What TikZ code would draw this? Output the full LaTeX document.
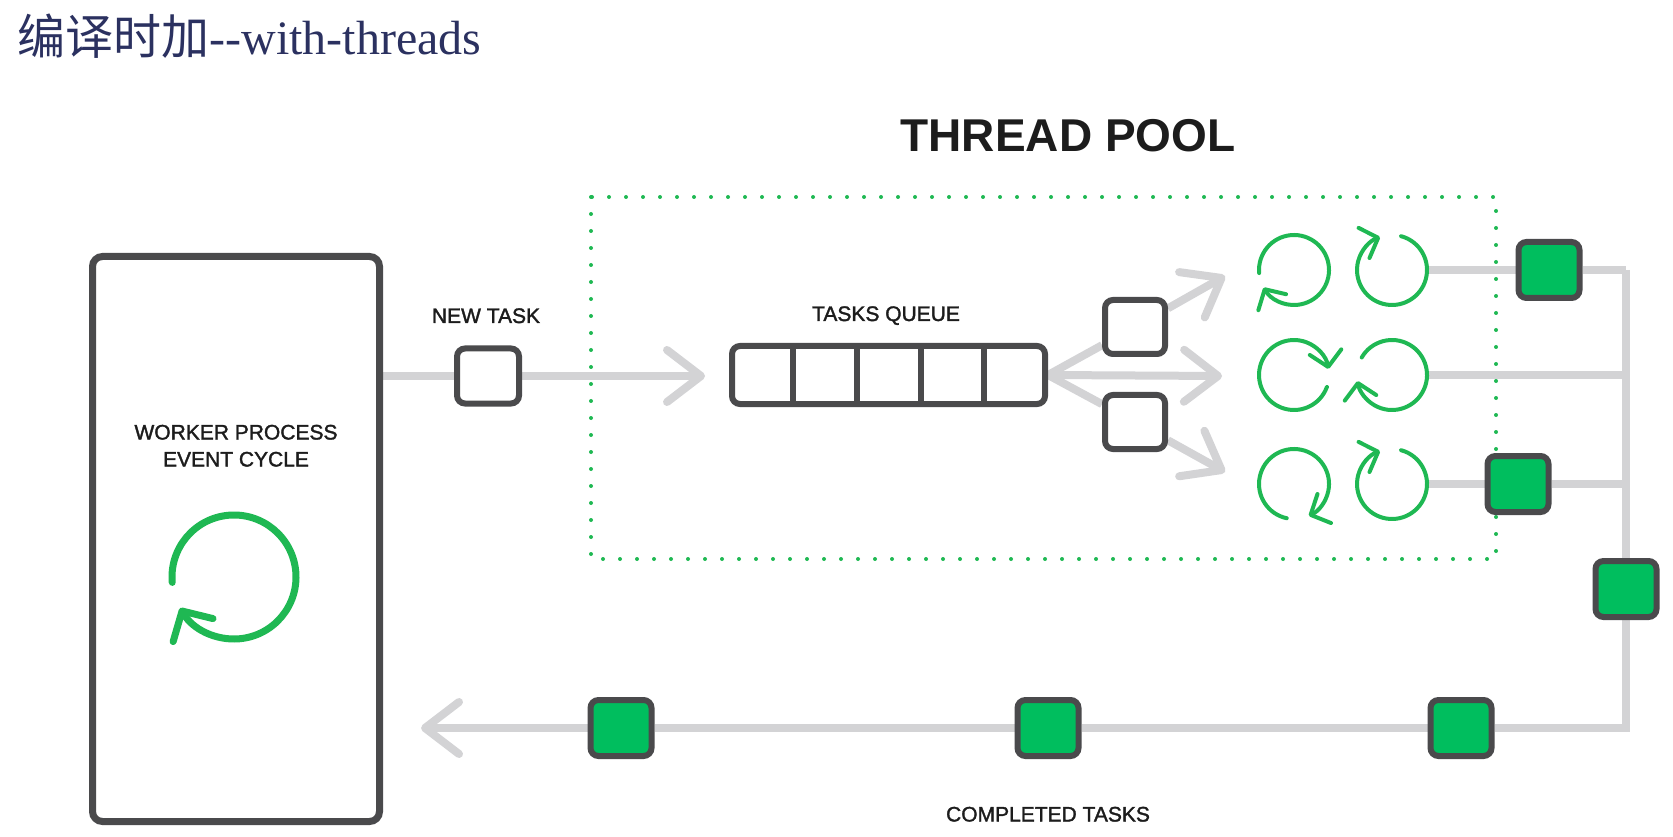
\documentclass[tikz,border=0pt]{standalone}
\usepackage{fontspec}
\usepackage{tikz}
\usetikzlibrary{arrows.meta,backgrounds}
\newfontfamily\cjk{Noto Sans CJK SC}
\newfontfamily\titleserif{Liberation Serif}
\newfontfamily\labelsans[FakeBold=1.6]{Liberation Sans}
\newfontfamily\poolsans{Liberation Sans}
\definecolor{titlenavy}{HTML}{2B3160}
\definecolor{boxgray}{HTML}{4A4A4C}
\definecolor{flowgray}{HTML}{D3D3D5}
\definecolor{taskgreen}{HTML}{00BE5E}
\definecolor{loopgreen}{HTML}{1FB853}
\definecolor{inkblack}{HTML}{1C1C1C}
\newcommand{\loopicon}[5][]{\draw[loopline,#1] (#2) ++(#4:#3) arc[start angle=#4, end angle=#5, radius=#3];}
\tikzset{
	flow/.style={draw=flowgray, line width=4pt},
	flowtip/.style={-{Straight Barb[length=17pt,width=26pt,round]}},
	taskbox/.style={draw=boxgray, line width=3pt, rounded corners=4pt, fill=white,
		minimum width=31pt, minimum height=27.5pt, inner sep=0pt},
	donebox/.style={taskbox, fill=taskgreen, minimum width=30.5pt, minimum height=28pt},
	tasklabel/.style={anchor=base, inner sep=0pt, text=inkblack,
		font=\labelsans\fontsize{10.5}{12}\selectfont},
	loopline/.style={draw=loopgreen, line width=2pt, line cap=round,
		-{Straight Barb[length=7.5pt,width=16pt,round]}},
	threadslot/.style={circle, minimum size=35pt, inner sep=0pt},
	pooldots/.style={draw=loopgreen, line width=2pt, line cap=round, dash pattern=on 0pt off 8.5pt}
}

\begin{document}
\begin{tikzpicture}[x=0.5pt, y=0.5pt]
	\useasboundingbox (0,0) rectangle (1673,836);
	\node[anchor=base west, inner sep=0pt, text=titlenavy, font=\fontsize{24}{28}\selectfont] (title)
		at (17,781) {{\cjk 编译时加}{\titleserif -{}-with-threads}};
	\node[anchor=base, inner sep=0pt, text=inkblack, font=\poolsans\bfseries\fontsize{23}{26}\selectfont] (pooltitle)
		at (1068,684) {THREAD POOL};

	\node[draw=boxgray, line width=3.5pt, rounded corners=5pt, fill=white,
		minimum width=143.5pt, minimum height=282.5pt] (worker) at (236,297) {};
	\node[tasklabel] (workertop) at (236,396.5) {WORKER PROCESS};
	\node[tasklabel] (workerbottom) at (236,369.5) {EVENT CYCLE};
	\coordinate (wloop) at (234,259);
	\loopicon[line width=3.5pt, -{Straight Barb[length=11pt,width=23pt,round]}]{wloop}{62}{185}{-150}

	\node[taskbox] (newtask) at (488,460) {};
	\node[tasklabel] (newtasktext) at (486,513) {NEW TASK};
	\coordinate (qin) at (705,460);
	\node[taskbox, minimum width=156.5pt, minimum height=29pt] (queue) at (888.5,461) {};
	\foreach \x in {793,857,921,984}
		\draw[boxgray, line width=3pt] (\x,432) -- (\x,490);
	\node[tasklabel] (queuetext) at (886,515) {TASKS QUEUE};

	\node[taskbox, minimum width=30pt, minimum height=27pt] (qa) at (1135,509) {};
	\node[taskbox, minimum width=30pt, minimum height=27pt] (qb) at (1135,414) {};
	\coordinate (tipa) at (1225,560);
	\coordinate (tipb) at (1222,460);
	\coordinate (tipc) at (1225,364);

	\foreach \r/\y in {1/566,2/461,3/352} {
		\node[threadslot] (t\r1) at (1294,\y) {};
		\node[threadslot] (t\r2) at (1392,\y) {};
	}
	\loopicon{t11}{35}{185}{-150}
	\loopicon{t12}{35}{75}{-250}
	\loopicon{t21}{35}{340}{10}
	\loopicon{t22}{35}{150}{-170}
	\loopicon{t31}{35}{258}{-65}
	\loopicon{t32}{35}{75}{-250}

	\node[donebox] (d1) at (1549,566) {};
	\node[donebox] (d2) at (1518,352) {};
	\node[donebox] (d3) at (1626,247) {};
	\node[donebox] (d4) at (1461,108) {};
	\node[donebox] (d5) at (1048,108) {};
	\node[donebox] (d6) at (621,108) {};
	\node[tasklabel] (donetext) at (1048,14.5) {COMPLETED TASKS};
	\coordinate (j1) at (1626,566);
	\coordinate (j2) at (1626,461);
	\coordinate (j3) at (1626,352);
	\coordinate (corner) at (1626,108);
	\coordinate (backtip) at (421,108);

	\begin{scope}[on background layer]
		\draw[pooldots] (591,639) rectangle (1496,277);
		\draw[flow] (worker.east |- newtask) -- (newtask);
		\draw[flow, flowtip] (newtask) -- (qin);
		\draw[flow] (queue.east) -- (qa);
		\draw[flow, flowtip] (qa) -- (tipa);
		\draw[flow, flowtip] (queue.east) -- (tipb);
		\draw[flow] (queue.east) -- (qb);
		\draw[flow, flowtip] (qb) -- (tipc);
		\draw[flow] (t12) -- (d1);
		\draw[flow] (d1) -- (j1);
		\draw[flow] (t22) -- (j2);
		\draw[flow] (t32) -- (d2);
		\draw[flow] (d2) -- (j3);
		\draw[flow] (j1) -- (d3);
		\draw[flow] (d3) -- (corner) -- (d4);
		\draw[flow] (d4) -- (d5);
		\draw[flow] (d5) -- (d6);
		\draw[flow, flowtip] (d6) -- (backtip);
	\end{scope}
\end{tikzpicture}
\end{document}
